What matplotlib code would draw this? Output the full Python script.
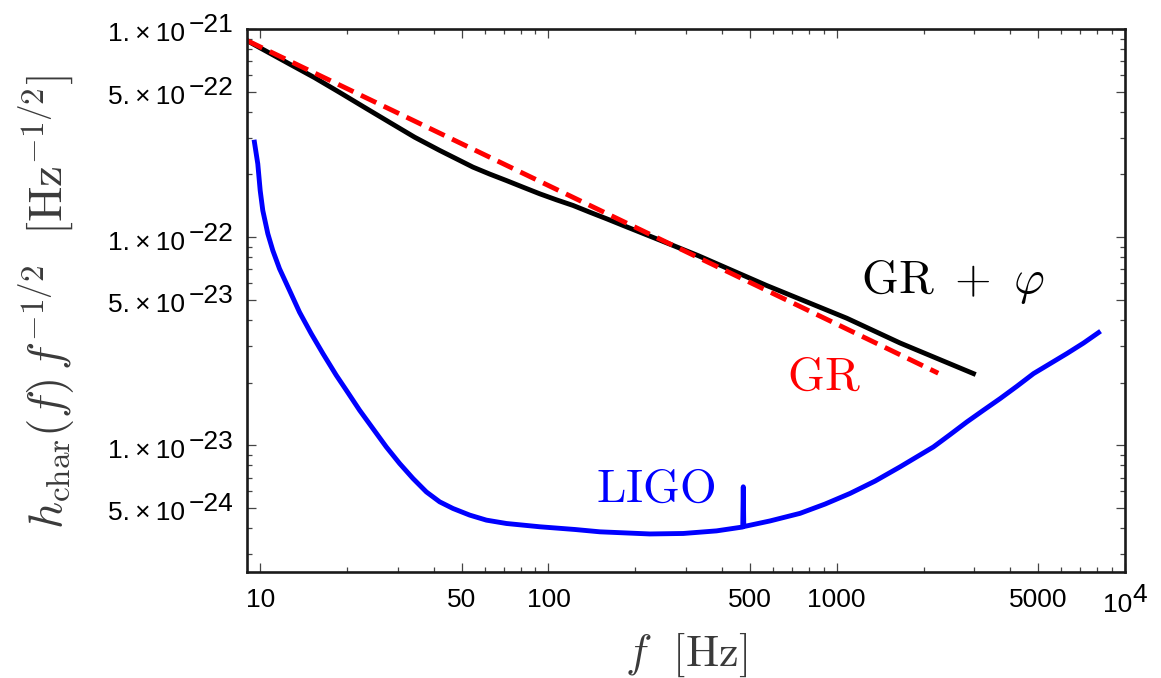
import matplotlib.pyplot as plt
from matplotlib.ticker import NullFormatter

plt.rcParams['mathtext.fontset'] = 'cm'
plt.rcParams['font.family'] = ['Liberation Sans', 'DejaVu Sans']

# GR + scalar field (black, solid)
f_phi = [9, 12.64, 15.43, 18.85, 23.02, 28.12, 34.35, 41.94, 47.9, 54.7, 62.5,
         71.5, 81.6, 93.3, 106.6, 121.7, 139.1, 159, 181.6, 207.5, 237, 270.7,
         330.7, 571, 1083, 1659, 2981]
h_phi = [8.79e-22, 6.79e-22, 5.84e-22, 4.96e-22, 4.20e-22, 3.56e-22, 3.02e-22,
         2.61e-22, 2.38e-22, 2.17e-22, 2.01e-22, 1.87e-22, 1.738e-22, 1.615e-22,
         1.511e-22, 1.42e-22, 1.318e-22, 1.226e-22, 1.138e-22, 1.057e-22,
         9.82e-23, 9.12e-23, 8.15e-23, 5.86e-23, 4.08e-23, 3.10e-23, 2.21e-23]

# pure GR (red, dashed)
f_gr = [9, 30, 100, 300, 1000, 2250]
h_gr = [8.8e-22, 3.95e-22, 1.77e-22, 8.52e-23, 3.82e-23, 2.22e-23]

# LIGO sensitivity (blue)
f_ligo = [9.55, 9.81, 10.0, 10.21, 10.63, 11.06, 11.67, 12.64, 13.69, 15.03,
          16.5, 18.36, 19.89, 22.12, 24.6, 27.38, 30.45, 33.88, 37.71, 41.94,
          46.65, 53.3, 60.9, 71.5, 93.3, 123.5, 150.7, 224.7, 293.4, 383, 472,
          474, 476, 586.6, 746, 911, 1112, 1358, 1659, 1896, 2165, 2474, 2828,
          3228, 3690, 4217, 4815, 5504, 6289, 7183, 8096]
h_ligo = [2.86e-22, 2.25e-22, 1.675e-22, 1.343e-22, 1.038e-22, 8.63e-23,
          7.05e-23, 5.55e-23, 4.36e-23, 3.44e-23, 2.76e-23, 2.17e-23, 1.84e-23,
          1.474e-23, 1.204e-23, 9.82e-24, 8.18e-24, 6.93e-24, 5.97e-24, 5.35e-24,
          4.97e-24, 4.62e-24, 4.37e-24, 4.21e-24, 4.06e-24, 3.94e-24, 3.84e-24,
          3.75e-24, 3.77e-24, 3.88e-24, 4.05e-24, 6.32e-24, 4.07e-24, 4.33e-24,
          4.71e-24, 5.22e-24, 5.87e-24, 6.73e-24, 7.88e-24, 8.80e-24, 9.82e-24,
          1.126e-23, 1.295e-23, 1.474e-23, 1.677e-23, 1.921e-23, 2.21e-23,
          2.47e-23, 2.76e-23, 3.10e-23, 3.48e-23]

x_major = [10, 50, 100, 500, 1000, 5000, 1e4]
x_labels = ['10', '50', '100', '500', '1000', '5000', '']
x_minor = [20, 30, 40, 60, 70, 80, 90, 200, 300, 400, 600, 700, 800, 900,
           2000, 3000, 4000, 6000, 7000, 8000, 9000]

y_major = [5e-24, 1e-23, 5e-23, 1e-22, 5e-22, 1e-21]
y_base = ['5.\u2009×\u200910', '1.\u2009×\u200910', '5.\u2009×\u200910',
          '1.\u2009×\u200910', '5.\u2009×\u200910', '1.\u2009×\u200910']
y_exp = ['\u221224', '\u221223', '\u221223', '\u221222', '\u221222', '\u221221']
y_minor = [3e-24, 4e-24, 6e-24, 7e-24, 8e-24, 9e-24,
           2e-23, 3e-23, 4e-23, 6e-23, 7e-23, 8e-23, 9e-23,
           2e-22, 3e-22, 4e-22, 6e-22, 7e-22, 8e-22, 9e-22]

fig = plt.figure(figsize=(11.61, 6.78), dpi=100)
ax = fig.add_axes([247 / 1161, 106.3 / 678, 878 / 1161, 542.7 / 678])
ax.set_xscale('log')
ax.set_yscale('log')

ax.plot(f_phi, h_phi, color='black', lw=3.5)
ax.plot(f_gr, h_gr, color='red', lw=3.5, dashes=(3.5, 1.7))
ax.plot(f_ligo, h_ligo, color='blue', lw=3.5)

ax.set_xlim(9, 1e4)
ax.set_ylim(2.47e-24, 1e-21)

ax.set_xticks(x_major, x_labels)
ax.set_xticks(x_minor, minor=True)
ax.xaxis.set_minor_formatter(NullFormatter())
ax.set_yticks(y_major)
ax.set_yticks(y_minor, minor=True)
ax.yaxis.set_minor_formatter(NullFormatter())

ax.tick_params(which='both', direction='in', top=True, right=True,
               color='#444444', width=0.9, labelsize=19, labelleft=False)
ax.tick_params(which='major', length=6.5, pad=11.7)
ax.tick_params(which='minor', length=3.3)
for s in ax.spines.values():
    s.set_linewidth(1.9)
    s.set_color('#1a1a1a')

# y tick labels, Mathematica style (exponent at full size)
for v, b, e in zip(y_major, y_base, y_exp):
    ax.annotate(b, xy=(0, v), xycoords=('axes fraction', 'data'),
                xytext=(-62, -12.4), textcoords='offset pixels',
                ha='right', va='baseline', fontsize=19)
    ax.annotate(e, xy=(0, v), xycoords=('axes fraction', 'data'),
                xytext=(-58, -3.4), textcoords='offset pixels',
                ha='left', va='baseline', fontsize=19)

# 10^4 label
ax.annotate('10', xy=(1e4, 0), xycoords=('data', 'axes fraction'),
            xytext=(7, -40), textcoords='offset pixels',
            ha='right', va='baseline', fontsize=19)
ax.annotate('4', xy=(1e4, 0), xycoords=('data', 'axes fraction'),
            xytext=(7, -30), textcoords='offset pixels',
            ha='left', va='baseline', fontsize=19)

ax.text(2534, 5.37e-23, r'$\mathrm{GR}\ +\ \varphi$', color='black',
        fontsize=34, ha='center', va='baseline')
ax.text(903.6, 1.84e-23, r'$\mathrm{GR}$', color='red',
        fontsize=34, ha='center', va='baseline')
ax.text(234.9, 5.33e-24, r'$\mathrm{LIGO}$', color='blue',
        fontsize=34, ha='center', va='baseline')

ax.set_xlabel(r'$f\ \ [\mathrm{Hz}]$', fontsize=32, color='#3a3a3a')
ax.xaxis.set_label_coords(0.5, -0.108)
ax.set_ylabel(r'$h_{\mathrm{char}}(f)\,f^{-1/2}\ \ [\mathrm{Hz}^{-1/2}]$',
              fontsize=34, color='#3a3a3a')
ax.yaxis.set_label_coords(-0.1936, 0.497)

fig.savefig('out.png', dpi=100)
